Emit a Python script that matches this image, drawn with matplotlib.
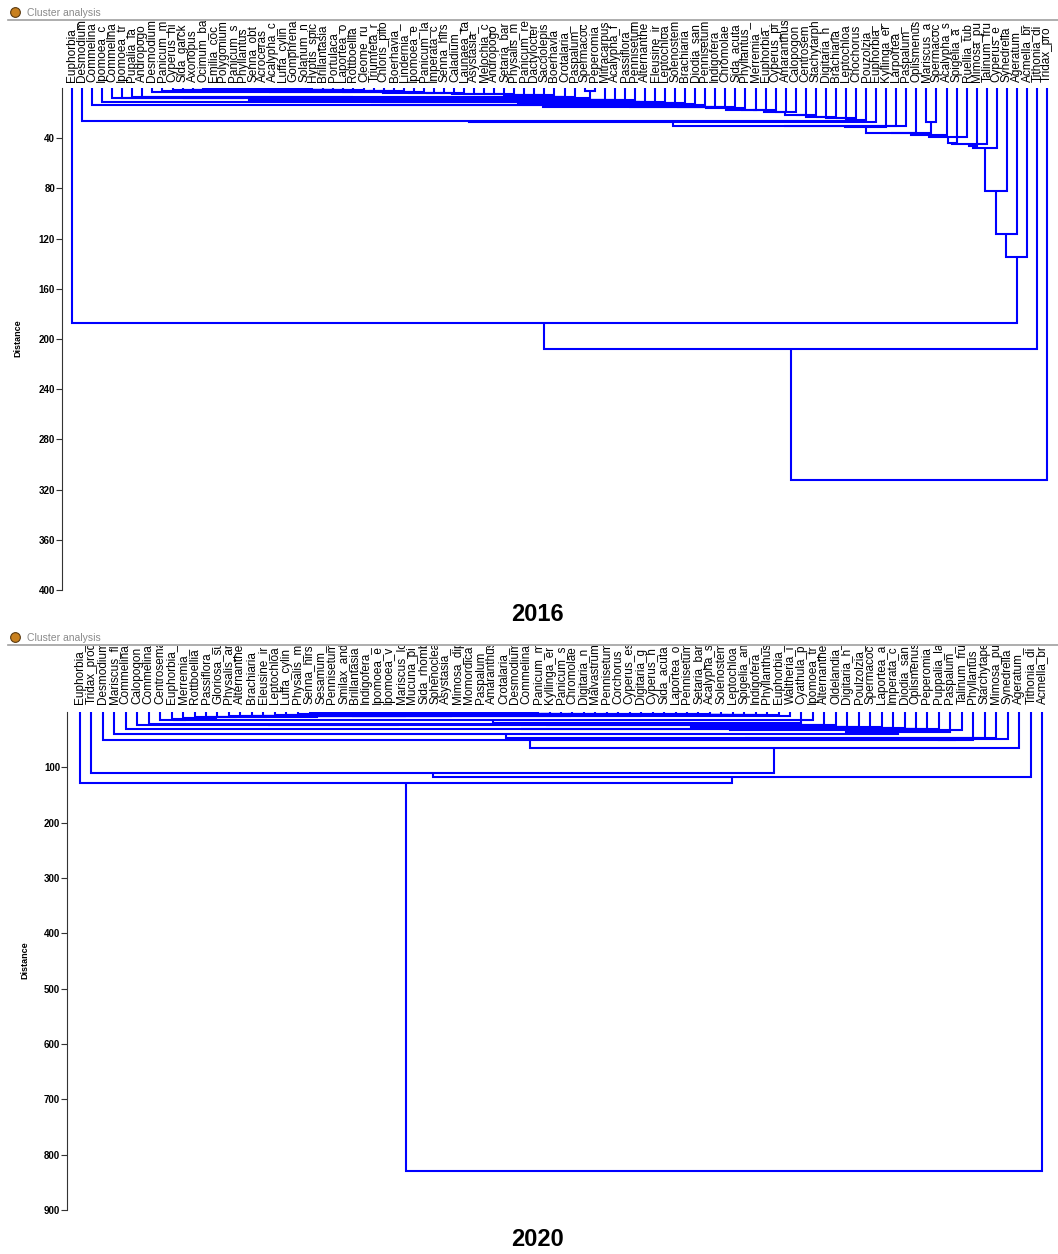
import numpy as np
import matplotlib
matplotlib.use("Agg")
import matplotlib.pyplot as plt
from matplotlib import transforms
from matplotlib.lines import Line2D

plt.rcParams["font.family"] = ["Liberation Sans", "DejaVu Sans"]

W, H = 1058, 1254
BLUE = "#0000ff"

# ── 2016 panel data ───────────────────────────────────────────────────────────
LABELS_2016 = [
    "Euphorbia_", "Desmodium", "Commelina", "Ipomoea_c", "Commelina", "Ipomoea_tr",
    "Pupalia_la", "Andropogo", "Desmodium", "Panicum_m", "Cyperus_hi", "Sida_garck",
    "Axonopus", "Ocimum_ba", "Emilia_coc", "Polygonium", "Panicum_s", "Phyllantus",
    "Senna_obt", "Acroceras", "Acalypha_c", "Luffa_cylin", "Gomphrena", "Solanum_n",
    "Hyptis_spic", "Brillantasia", "Portulaca_", "Laportea_o", "Rottboellia", "Cleome_ru",
    "Triumfeta_r", "Chloris_pilo", "Boerhavia_", "Lindernia_", "Ipomoea_e", "Panicum_la",
    "Imperata_c", "Senna_hirs", "Caladium_", "Launaea_ta", "Asystasia_", "Melochia_c",
    "Andropogo", "Setaria_bar", "Physalis_m", "Panicum_re", "Dactylocter", "Sacciolepis",
    "Boerhavia", "Crotalaria_", "Paspalum_", "Spermacoc", "Peperomia", "Mitracarpus",
    "Acalypha_f", "Passiflora_", "Pennisetum", "Alternanthe", "Eleusine_ir", "Leptochloa",
    "Solenostem", "Brachiaria", "Diodia_san", "Pennisetum", "Indigofera", "Chromolae",
    "Sida_acuta", "Phyllantus_", "Merremia_", "Euphorbia_", "Cyperus_pi", "Amaranthus",
    "Calopogon", "Centrosem", "Stachytarph", "Digitaria_h", "Brachiaria", "Leptochloa",
    "Chochorus", "Pouzolzia_", "Euphorbia_", "Kyllinga_er", "Larportea_", "Paspalum_",
    "Oplismenus", "Mariscus_a", "Spermacoc", "Acalypha_s", "Spigelia_a", "Ruellia_tub",
    "Mimosa_pu", "Talinum_fru", "Cyperus_e", "Synedrella", "Ageratum_", "Acmella_br",
    "Tithonia_di", "Tridax_pro",
]
# distance at which each leaf joins the main cluster (None = seed or second of a pair)
JOIN_2016 = [
    187, 26.4, 13.6, 11, 8, 7.6, 7.3, 7.0, 3.5, 2.4,
    1.8, 1.4, 1.2, 1.0, 0.9, 0.8, 0.7, 0.6, 0.5, 0.5,
    0.4, 0.3, 0.3, 0.2, None, 1.2, 1.4, 1.6, 1.7, 1.8,
    2.4, 2.4, 2.5, 2.5, 3.5, 3.5, 3.6, 3.6, 4.3, 4.3,
    4.4, 4.4, 4.5, 5.1, 5.1, 5.2, 5.2, 5.6, 5.6, 6.9,
    6.9, 7.7, None, 9.6, 9.6, 9.7, 9.7, 10.9, 10.9, 11.0,
    12.3, 12.3, 12.4, 13.6, 14.9, 14.9, 15.0, 16.3, 17.6, 17.6,
    17.7, 18.9, 18.9, 21.6, 21.6, 22.9, 22.9, 24.3, 24.3, 25.6,
    26.9, 31, 30, 30.2, 36, 36.2, None, 37.6, 44, 39,
    46.4, 45, 48, 82, 116, 135, 208, 312,
]
PAIRS_2016 = [(51, 52, 2.4), (85, 86, 27.0)]
SEED_2016 = 24
TICKS_2016 = [40, 80, 120, 160, 200, 240, 280, 320, 360, 400]

# ── 2020 panel data ───────────────────────────────────────────────────────────
LABELS_2020 = [
    "Euphorbia_", "Tridax_prod", "Desmodium", "Mariscus_fl", "Commelina", "Calopogon",
    "Commelina", "Centrosema", "Euphorbia_", "Merremia_", "Rottboellia", "Passiflora_",
    "Gloriosa_su", "Physalis_an", "Alternanthe", "Brachiaria", "Eleusine_ir", "Leptochloa",
    "Luffa_cylin", "Physalis_m", "Senna_hirs", "Sesamum_", "Pennisetum", "Smilax_and",
    "Brillantasia", "Indigofera_", "Ipomoea_e", "Ipomoea_v", "Mariscus_lo", "Mucuna_pi",
    "Sida_rhomb", "Sphenoclea", "Asystasia_", "Mimosa_dip", "Momordica", "Paspalum_",
    "Amaranthus", "Crotalaria_", "Desmodium", "Commelina", "Panicum_m", "Kyllinga_er",
    "Panicum_s", "Chromolae", "Digitaria_n", "Malvastrum", "Pennisetum", "Corchorus",
    "Cyperus_es", "Digitaria_g", "Cyperus_h", "Sida_acuta", "Laportea_o", "Pennisetum",
    "Setaria_bar", "Acalypha_s", "Solenostem", "Leptochloa", "Spigelia_an", "Indigofera_",
    "Phyllanthus", "Euphorbia_", "Waltheria_i", "Cyathula_p", "Ipomoea_tr", "Alternanthe",
    "Oldelandia_", "Digitaria_h", "Poulzolzia_", "Spermacoc", "Laportea_a", "Imperata_c",
    "Diodia_san", "Oplismenus", "Peperomia", "Puppalia_la", "Paspalum_", "Talinum_fru",
    "Phyllantus", "Starchytape", "Mimosa_pu", "Synedrella", "Ageratum_", "Tithonia_di",
    "Acmella_br",
]
JOIN_2020 = [
    128, 110, 51, 40, 31, 23, 21, 14.5, 13, 11,
    9.5, 9, 8.5, 8, 7.5, 7, 6.5, 6, 5, 3,
    None, 0.6, 0.8, 1.0, 1.1, 1.2, 1.3, 1.4, 1.5, 1.6,
    1.7, 1.8, 1.9, 2.0, 2.1, 2.2, 2.3, 2.4, 2.5, 2.6,
    2.7, 2.8, 2.9, 3.0, 3.1, 3.2, 3.3, 3.4, 3.5, 3.6,
    3.7, 3.8, 3.9, 4.0, 4.2, 4.4, 4.6, 4.8, 5.0, 5.3,
    5.6, 6.0, 7.0, 20, 14.5, 23.5, 23.6, 26.6, 26.7, 29.6,
    26.8, 29.7, 29.8, 29.9, 30.0, 31, 35.6, 32.6, 50, 47.7,
    47.8, 47.9, 65.8, 118, 830,
]
PAIRS_2020 = []
SEED_2020 = 20
TICKS_2020 = [100, 200, 300, 400, 500, 600, 700, 800, 900]


def fx(px):
    return px / W


def fy(py):
    return 1 - py / H


def draw_tree(ax, joins, pairs, seed):
    n = len(joins)
    events = [(h, a, b) for a, b, h in pairs]
    events += [(h, i, seed) for i, h in enumerate(joins) if h is not None]
    events.sort(key=lambda e: e[0])
    parent = list(range(n))
    pos = {i: (float(i), 0.0) for i in range(n)}

    def find(i):
        while parent[i] != i:
            i = parent[i]
        return i

    for h, a, b in events:
        ra, rb = find(a), find(b)
        xa, ha = pos[ra]
        xb, hb = pos[rb]
        ax.plot([xa, xa, xb, xb], [ha, h, h, hb], color=BLUE, lw=1.5,
                solid_joinstyle="miter", solid_capstyle="butt")
        parent[rb] = ra
        pos[ra] = ((xa + xb) / 2, h)


def panel(fig, labels, joins, pairs, seed, ticks, ymax, box, leaf0, step,
          bar_y, label_y, dist_xy, year, year_y):
    left, right, top, bottom = box
    ax = fig.add_axes([fx(left), fy(bottom), fx(right - left), (bottom - top) / H])
    draw_tree(ax, joins, pairs, seed)
    ax.set_xlim((left - leaf0) / step, (right - leaf0) / step)
    ax.set_ylim(ymax, 0)
    for s in ["top", "right", "bottom"]:
        ax.spines[s].set_visible(False)
    ax.spines["left"].set_color("#333333")
    ax.spines["left"].set_linewidth(0.8)
    ax.set_xticks([])
    ax.set_yticks(ticks)
    ax.set_yticklabels([str(t) for t in ticks], fontsize=7, fontweight="bold")
    ax.tick_params(axis="y", length=4, width=0.8, pad=1, color="#333333")

    # title bar
    fig.add_artist(Line2D([fx(8), 1], [fy(bar_y), fy(bar_y)], color="#a0a0a0", lw=1.2))
    fig.add_artist(Line2D([fx(15)], [fy(bar_y - 8)], marker="o", ms=7,
                          color="#c8801e", mec="#5a3a10", mew=0.8))
    fig.text(fx(27), fy(bar_y - 7), "Cluster analysis", fontsize=7.5,
             color="#8a8a8a", va="center", ha="left")

    # leaf labels
    trans = transforms.blended_transform_factory(ax.transData, fig.transFigure)
    clip = transforms.Bbox.from_extents(0, H - label_y - 2, W, H - bar_y - 1)
    for i, name in enumerate(labels):
        t = ax.text(i, fy(label_y), name, transform=trans, rotation=90,
                    ha="center", va="bottom", fontsize=8.5, color="black")
        t.set_clip_box(clip)
        t.set_clip_on(True)

    fig.text(fx(dist_xy[0]), fy(dist_xy[1]), "Distance", rotation=90,
             fontsize=6.5, fontweight="bold", ha="center", va="center")
    fig.text(fx(537), fy(year_y), year, fontsize=17, fontweight="bold",
             ha="center", va="center")
    return ax


fig = plt.figure(figsize=(W / 100, H / 100), dpi=100)

panel(fig, LABELS_2016, JOIN_2016, PAIRS_2016, SEED_2016, TICKS_2016, 400,
      (62, 1055, 88, 590), 72, 10.052, 20, 82, (18, 338), "2016", 615)
panel(fig, LABELS_2020, JOIN_2020, PAIRS_2020, SEED_2020, TICKS_2020, 900,
      (67, 1055, 712, 1210), 80, 11.452, 645, 704, (25, 960), "2020", 1240)

fig.savefig("out.png", dpi=100)
